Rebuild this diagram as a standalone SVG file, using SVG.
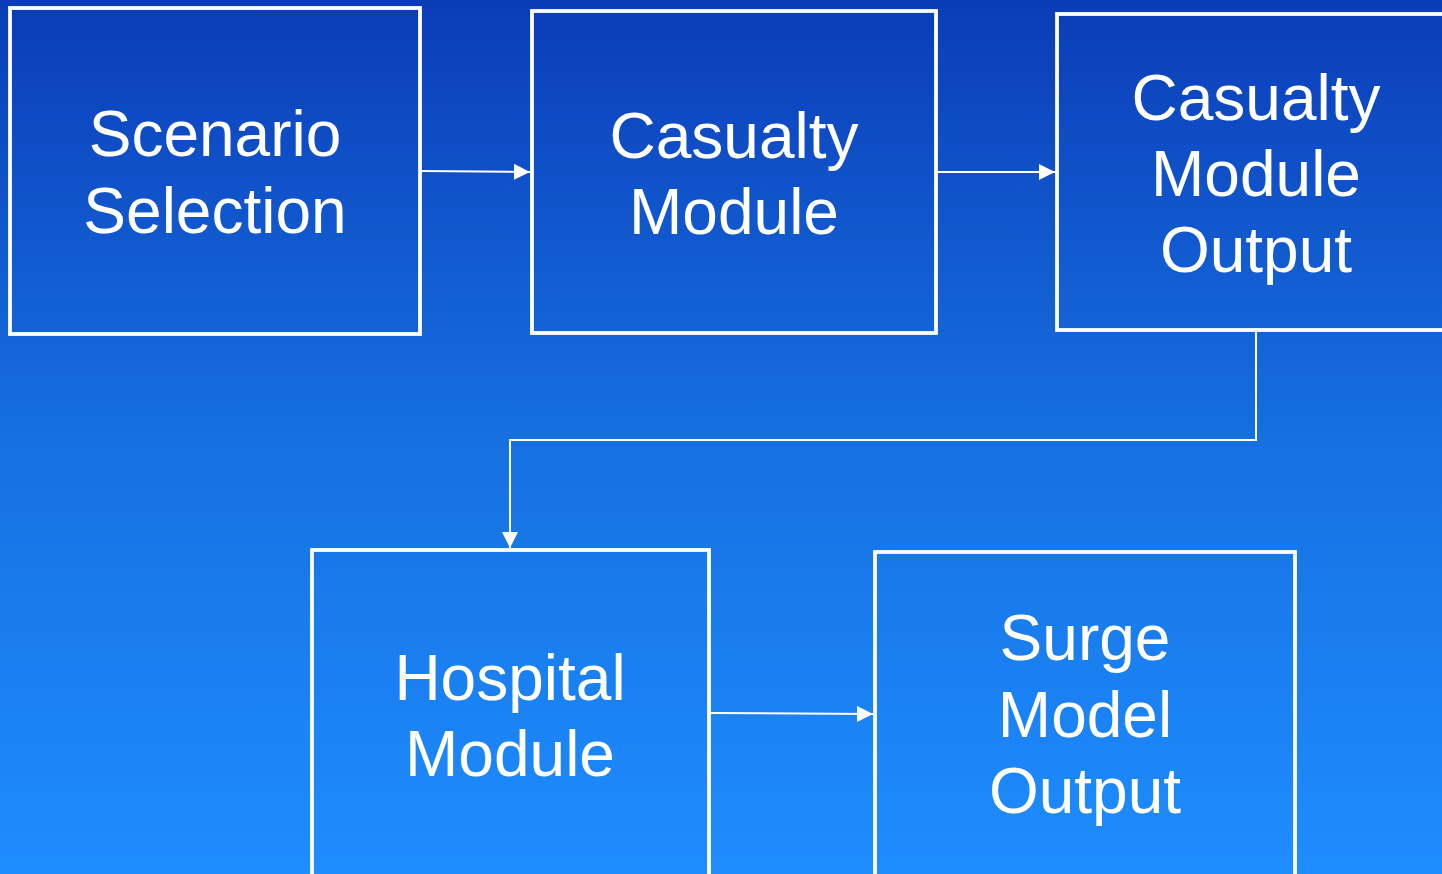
<svg xmlns="http://www.w3.org/2000/svg" width="1442" height="874" viewBox="0 0 1442 874">
<defs>
<linearGradient id="bg" x1="0" y1="0" x2="0" y2="1">
<stop offset="0" stop-color="#0b3cb8"/>
<stop offset="0.5" stop-color="#1670e0"/>
<stop offset="1" stop-color="#1e8dff"/>
</linearGradient>
<marker id="ah" viewBox="0 0 10 10" refX="10" refY="5" markerWidth="16" markerHeight="16" markerUnits="userSpaceOnUse" orient="auto">
<path d="M0,0 L10,5 L0,10 Z" fill="#ffffff"/>
</marker>
<style>
.box{fill:none;stroke:#ffffff;stroke-width:3.8}
.lbl{font-family:"Liberation Sans",Arial,sans-serif;font-size:64px;fill:#ffffff;text-anchor:middle}
.con{fill:none;stroke:#ffffff;stroke-width:2;marker-end:url(#ah)}
</style>
</defs>
<rect x="0" y="0" width="1442" height="874" fill="url(#bg)"/>
<g id="connectors">
<path class="con" d="M421,171 L530,172"/>
<path class="con" d="M937,172 L1055,172"/>
<path class="con" d="M1256,331 L1256,440 L510,440 L510,548"/>
<path class="con" d="M710,713 L873,714"/>
</g>
<g id="scenario-selection">
<rect class="box" x="10" y="8" width="410" height="326"/>
<text class="lbl" x="215" y="156">Scenario</text>
<text class="lbl" x="215" y="233">Selection</text>
</g>
<g id="casualty-module">
<rect class="box" x="532" y="11" width="404" height="322"/>
<text class="lbl" x="734" y="158">Casualty</text>
<text class="lbl" x="734" y="234">Module</text>
</g>
<g id="casualty-module-output">
<rect class="box" x="1057" y="14" width="400" height="316"/>
<text class="lbl" x="1256" y="120">Casualty</text>
<text class="lbl" x="1256" y="196">Module</text>
<text class="lbl" x="1256" y="272">Output</text>
</g>
<g id="hospital-module">
<rect class="box" x="312" y="550" width="397" height="340"/>
<text class="lbl" x="510" y="700">Hospital</text>
<text class="lbl" x="510" y="776">Module</text>
</g>
<g id="surge-model-output">
<rect class="box" x="875" y="552" width="420" height="340"/>
<text class="lbl" x="1085" y="660">Surge</text>
<text class="lbl" x="1085" y="737">Model</text>
<text class="lbl" x="1085" y="813">Output</text>
</g>
</svg>
